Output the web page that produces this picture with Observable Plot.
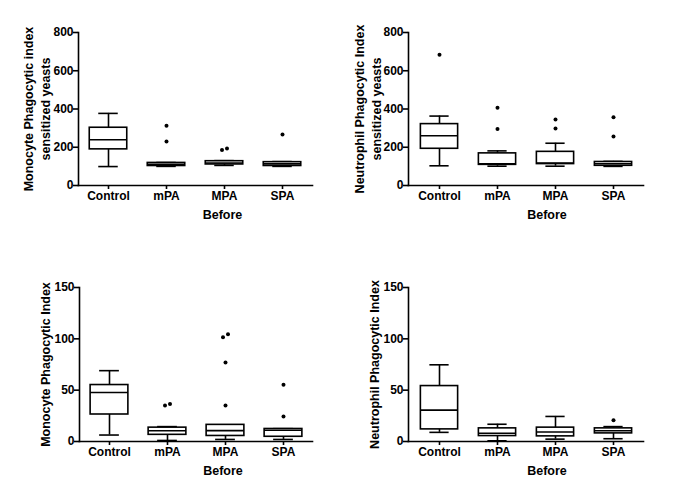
<!DOCTYPE html>
<html>
<head>
<meta charset="utf-8">
<script src="https://cdn.jsdelivr.net/npm/d3@7"></script>
<script src="https://cdn.jsdelivr.net/npm/@observablehq/plot@0.6"></script>
<style>
  html, body { margin: 0; padding: 0; background: white; }
  #wrap { position: relative; width: 685px; height: 499px; background: white; overflow: hidden; }
  .panel { position: absolute; }
</style>
</head>
<body>
<div id="wrap">
  <div class="panel" id="pA" style="left:0px;top:0px"></div>
  <div class="panel" id="pB" style="left:340px;top:0px"></div>
  <div class="panel" id="pC" style="left:0px;top:250px"></div>
  <div class="panel" id="pD" style="left:340px;top:250px"></div>
</div>
<script>
// ---- Data ----
const categories = ["Control", "mPA", "MPA", "SPA"];
const xLabel = "Before";

// Panel A: Monocyte Phagocytic index, sensitized yeasts
const aLabel = ["Monocyte Phagocytic index", "sensitized yeasts"];
const aTicks = [0, 200, 400, 600, 800];
const aMin = [99, 100, 105, 100];
const aQ1  = [189, 102, 110, 102];
const aMed = [239, 111, 118, 113];
const aQ3  = [302, 118, 127, 122];
const aMax = [377, 120, 130, 125];
const aOutCat = ["mPA", "mPA", "MPA", "MPA", "SPA"];
const aOutVal = [313, 230, 186, 194, 267];

// Panel B: Neutrophil Phagocytic Index, sensitized yeasts
const bLabel = ["Neutrophil Phagocytic Index", "sensitized yeasts"];
const bTicks = [0, 200, 400, 600, 800];
const bMin = [103, 101, 101, 100];
const bQ1  = [192, 108, 112, 103];
const bMed = [260, 114, 118, 114];
const bQ3  = [321, 168, 176, 123];
const bMax = [363, 181, 221, 126];
const bOutCat = ["Control", "mPA", "mPA", "MPA", "MPA", "SPA", "SPA"];
const bOutVal = [684, 406, 296, 345, 298, 357, 256];

// Panel C: Monocyte Phagocytic Index
const cLabel = ["Monocyte Phagocytic Index"];
const cTicks = [0, 50, 100, 150];
const cMin = [6.3, 1, 2, 2];
const cQ1  = [26.3, 6.5, 5.4, 4.6];
const cMed = [47.8, 10.5, 10.6, 11];
const cQ3  = [55, 13.5, 16.2, 12.2];
const cMax = [69, 14.5, 16.2, 12.5];
const cOutCat = ["mPA", "mPA", "MPA", "MPA", "MPA", "MPA", "SPA", "SPA"];
const cOutVal = [35, 36.6, 77, 101.5, 104.5, 35, 55.3, 24.4];

// Panel D: Neutrophil Phagocytic Index
const dLabel = ["Neutrophil Phagocytic Index"];
const dTicks = [0, 50, 100, 150];
const dMin = [8.9, 0.7, 2.3, 2.7];
const dQ1  = [11.8, 5.3, 5, 7.9];
const dMed = [30.6, 8, 9.2, 10.5];
const dQ3  = [54, 12.8, 13.5, 12.8];
const dMax = [74.7, 16.8, 24.4, 14.5];
const dOutCat = ["SPA"];
const dOutVal = [20.7];

// ---- Helpers ----
function boxRows(min, q1, med, q3, max) {
  return categories.map((c, i) => ({cat: c, min: min[i], q1: q1[i], med: med[i], q3: q3[i], max: max[i]}));
}
function outlierRows(cats, vals, yMax) {
  const rows = cats.map((c, i) => ({cat: c, v: vals[i], side: 0}));
  for (const c of categories) {
    const g = rows.filter(r => r.cat === c).sort((a, b) => a.v - b.v);
    for (let i = 1; i < g.length; i++) {
      if (g[i].v - g[i - 1].v < yMax * 0.025 && g[i - 1].side === 0) { g[i - 1].side = -1; g[i].side = 1; }
    }
  }
  return rows;
}

function panel(el, cfg) {
  const rows = boxRows(cfg.min, cfg.q1, cfg.med, cfg.q3, cfg.max);
  const yMax = cfg.ticks[cfg.ticks.length - 1];
  const outs = outlierRows(cfg.outCat, cfg.outVal, yMax);
  const innerW = cfg.width - cfg.marginLeft - cfg.marginRight;
  const bw = innerW / categories.length;
  const boxInset = (bw - 38) / 2;
  const capInset = (bw - 20) / 2;
  const sw = 1.6;
  const lineGap = 17;
  const n = cfg.label.length;
  const labelMarks = cfg.label.map((line, i) =>
    Plot.text([line], {frameAnchor: "left", rotate: -90, dx: cfg.yLabelDx + (i - (n - 1) / 2) * lineGap,
      lineAnchor: "middle", textAnchor: "middle", fontSize: 12.5, fontWeight: "bold", fill: "black"}));
  const chart = Plot.plot({
    width: cfg.width, height: cfg.height,
    marginLeft: cfg.marginLeft, marginRight: cfg.marginRight,
    marginTop: cfg.marginTop, marginBottom: cfg.marginBottom,
    style: {fontFamily: "'Liberation Sans', Arial, Helvetica, sans-serif", fontSize: "12px", fontWeight: "bold", color: "black", background: "white"},
    x: {type: "band", domain: categories, padding: 0, label: null},
    y: {domain: [0, yMax], label: null},
    marks: [
      Plot.axisY({ticks: cfg.ticks, tickSize: 5, tickPadding: 0, strokeWidth: sw, label: null, fontSize: 12, fontWeight: "bold"}),
      Plot.axisX({tickSize: 4, tickPadding: 2, strokeWidth: sw, label: null, fontSize: 12, fontWeight: "bold"}),
      Plot.frame({anchor: "left", stroke: "black", strokeWidth: sw}),
      Plot.frame({anchor: "bottom", stroke: "black", strokeWidth: sw}),
      Plot.ruleX(rows, {x: "cat", y1: "min", y2: "q1", stroke: "black", strokeWidth: sw}),
      Plot.ruleX(rows, {x: "cat", y1: "q3", y2: "max", stroke: "black", strokeWidth: sw}),
      Plot.tickY(rows, {x: "cat", y: "min", insetLeft: capInset, insetRight: capInset, stroke: "black", strokeWidth: sw}),
      Plot.tickY(rows, {x: "cat", y: "max", insetLeft: capInset, insetRight: capInset, stroke: "black", strokeWidth: sw}),
      Plot.barY(rows, {x: "cat", y1: "q1", y2: "q3", fill: "white", stroke: "black", strokeWidth: sw, insetLeft: boxInset, insetRight: boxInset}),
      Plot.tickY(rows, {x: "cat", y: "med", insetLeft: boxInset, insetRight: boxInset, stroke: "black", strokeWidth: sw}),
      Plot.dot(outs, {filter: d => d.side === 0, x: "cat", y: "v", r: 2, fill: "black", stroke: "none"}),
      Plot.dot(outs, {filter: d => d.side === -1, x: "cat", y: "v", r: 2, fill: "black", stroke: "none", dx: -2.5}),
      Plot.dot(outs, {filter: d => d.side === 1, x: "cat", y: "v", r: 2, fill: "black", stroke: "none", dx: 2.5}),
      ...labelMarks,
      Plot.text([xLabel], {frameAnchor: "bottom", dy: 29, dx: cfg.xLabelDx, lineAnchor: "middle", textAnchor: "middle", fontSize: 12.5, fontWeight: "bold", fill: "black"})
    ]
  });
  document.getElementById(el).appendChild(chart);
}

panel("pA", {label: aLabel, ticks: aTicks, min: aMin, q1: aQ1, med: aMed, q3: aQ3, max: aMax, outCat: aOutCat, outVal: aOutVal,
  width: 340, height: 240, marginLeft: 78, marginRight: 28, marginTop: 32, marginBottom: 55, yLabelDx: -41, xLabelDx: 27});
panel("pB", {label: bLabel, ticks: bTicks, min: bMin, q1: bQ1, med: bMed, q3: bQ3, max: bMax, outCat: bOutCat, outVal: bOutVal,
  width: 345, height: 240, marginLeft: 68, marginRight: 42, marginTop: 32, marginBottom: 55, yLabelDx: -40, xLabelDx: 21});
panel("pC", {label: cLabel, ticks: cTicks, min: cMin, q1: cQ1, med: cMed, q3: cQ3, max: cMax, outCat: cOutCat, outVal: cOutVal,
  width: 340, height: 249, marginLeft: 79, marginRight: 28, marginTop: 37, marginBottom: 58, yLabelDx: -34, xLabelDx: 27});
panel("pD", {label: dLabel, ticks: dTicks, min: dMin, q1: dQ1, med: dMed, q3: dQ3, max: dMax, outCat: dOutCat, outVal: dOutVal,
  width: 345, height: 249, marginLeft: 68, marginRight: 42, marginTop: 37, marginBottom: 58, yLabelDx: -34, xLabelDx: 21});
</script>
</body>
</html>
